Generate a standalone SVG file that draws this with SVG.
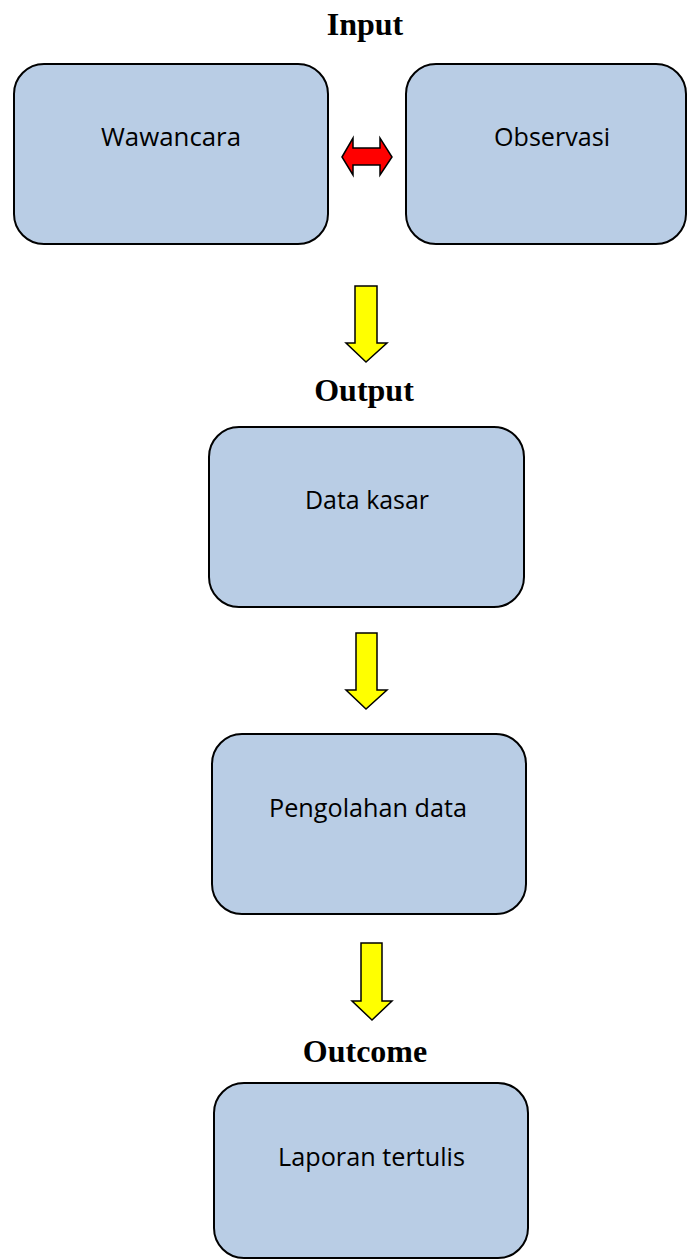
<svg xmlns="http://www.w3.org/2000/svg" width="688" height="1260" viewBox="0 0 688 1260">
  <style>
    .box { fill: #B9CDE5; stroke: #000; stroke-width: 2; }
    .label { font-family: "Open Sans", "Liberation Sans", sans-serif; font-size: 25px; fill: #000; }
    .title { font-family: "Liberation Serif", "Times New Roman", serif; font-size: 32px; font-weight: bold; fill: #000; text-anchor: middle; }
    .flow { fill: #FFFF00; stroke: #000; stroke-width: 1.5; stroke-linejoin: miter; }
    .link { fill: #FF0000; stroke: #000; stroke-width: 1.5; stroke-linejoin: miter; }
  </style>
  <rect width="688" height="1260" fill="#fff"/>

  <!-- section headings -->
  <text class="title" x="365" y="35">Input</text>
  <text class="title" x="364" y="401">Output</text>
  <text class="title" x="365" y="1062">Outcome</text>

  <g id="node-wawancara">
    <rect class="box" x="14" y="64" width="314" height="180" rx="30" ry="30"/>
    <text class="label" x="101" y="146" textLength="140" lengthAdjust="spacingAndGlyphs">Wawancara</text>
  </g>
  <g id="node-observasi">
    <rect class="box" x="406" y="64" width="280" height="180" rx="30" ry="30"/>
    <text class="label" x="494" y="146" textLength="116" lengthAdjust="spacingAndGlyphs">Observasi</text>
  </g>
  <g id="node-data-kasar">
    <rect class="box" x="209" y="427" width="315" height="180" rx="30" ry="30"/>
    <text class="label" x="305" y="509" textLength="124" lengthAdjust="spacingAndGlyphs">Data kasar</text>
  </g>
  <g id="node-pengolahan">
    <rect class="box" x="212" y="734" width="314" height="180" rx="30" ry="30"/>
    <text class="label" x="269" y="817" textLength="198" lengthAdjust="spacingAndGlyphs">Pengolahan data</text>
  </g>
  <g id="node-laporan">
    <rect class="box" x="214" y="1083" width="314" height="175" rx="30" ry="30"/>
    <text class="label" x="278" y="1166" textLength="187" lengthAdjust="spacingAndGlyphs">Laporan tertulis</text>
  </g>

  <g id="connectors">
    <!-- two-way link between the input sources -->
    <path class="link" d="M342,157 L353,138 L353,148 L380,148 L380,138 L392,157 L380,175 L380,165 L353,165 L353,175 Z"/>
    <!-- block arrows down the flow -->
    <path class="flow" d="M355,286 L377,286 L377,343 L387,343 L366,362 L346,343 L355,343 Z"/>
    <path class="flow" d="M356,633 L377,633 L377,690 L387,690 L366,709 L346,690 L356,690 Z"/>
    <path class="flow" d="M361,943 L382,943 L382,1001 L392,1001 L372,1020 L352,1001 L361,1001 Z"/>
  </g>
</svg>
